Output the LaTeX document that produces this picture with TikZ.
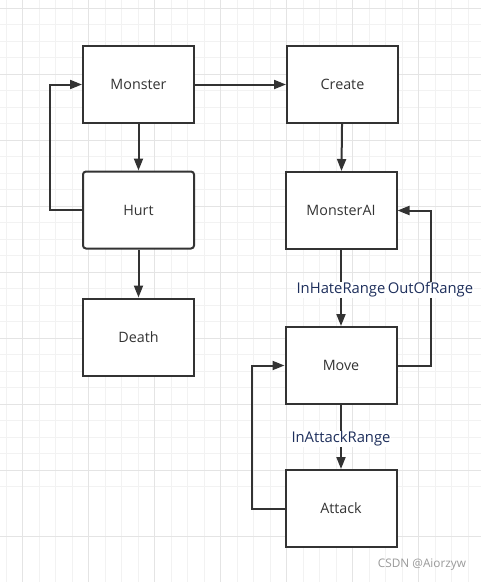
\documentclass[tikz,border=0pt]{standalone}
\usepackage{fontspec}
\setmainfont{Open Sans}
\usetikzlibrary{arrows.meta}
\definecolor{minorgrid}{HTML}{F2F2F2}
\definecolor{majorgrid}{HTML}{E4E4E4}
\definecolor{ink}{HTML}{333333}
\definecolor{lblink}{HTML}{1E2F5C}
\definecolor{wm}{HTML}{9A9A9A}
\begin{document}
\begin{tikzpicture}[x=1pt,y=-1pt,
  box/.style={draw=ink,line width=2pt,fill=white,minimum width=111pt,minimum height=77pt,inner sep=0pt,text=ink,font=\fontsize{14.3}{16}\selectfont},
  rbox/.style={box,rounded corners=3pt},
  arr/.style={draw=ink,line width=2pt,-{Triangle[length=12pt,width=9pt]}},
  lbl/.style={fill=white,inner sep=0.5pt,yshift=-2pt,text=lblink,font=\fontsize{14.8}{16}\selectfont}]
\useasboundingbox (0,0) rectangle (481,582);
\fill[white] (0,0) rectangle (481,582);
\foreach \k in {0,...,29} {
  \draw[minorgrid,line width=1pt] ({6.2+16.5*\k},0) -- ({6.2+16.5*\k},582);
  \draw[minorgrid,line width=1pt] (0,{8+16.5*\k}) -- (481,{8+16.5*\k});
}
\foreach \k in {0,...,8} {
  \draw[majorgrid,line width=1pt] ({22.7+66*\k},0) -- ({22.7+66*\k},582);
  \draw[majorgrid,line width=1pt] (0,{8+66*\k}) -- (481,{8+66*\k});
}
\node[box]  (Monster)   at (138.5,84.5) {Monster};
\node[rbox] (Hurt)      at (138.5,210)  {Hurt};
\node[box]  (Death)     at (138.5,337)  {Death};
\node[box]  (Create)    at (342.5,84.5) {Create};
\node[box]  (MonsterAI) at (341,210.5)  {MonsterAI};
\node[box]  (Move)      at (341,365.5)  {Move};
\node[box]  (Attack)    at (341,508.5)  {Attack};
\draw[arr] (Monster) -- (Create);
\draw[arr] (Monster) -- (Hurt);
\draw[arr] (Hurt.west) -- ++(-32,0) |- (Monster.west);
\draw[arr] (Hurt) -- (Death);
\draw[arr] (Create) -- (MonsterAI);
\draw[arr] (MonsterAI) -- node[lbl]{InHateRange} (Move);
\draw[arr] (Move.east) -- ++(33,0) |- node[lbl,pos=0.25]{OutOfRange} (MonsterAI.east);
\draw[arr] (Move) -- node[lbl]{InAttackRange} (Attack);
\draw[arr] (Attack.west) -- ++(-33,0) |- (Move.west);
\node[text=wm,font=\fontsize{11.8}{13}\selectfont] (wmark) at (422,565) {CSDN @Aiorzyw};
\end{tikzpicture}
\end{document}
